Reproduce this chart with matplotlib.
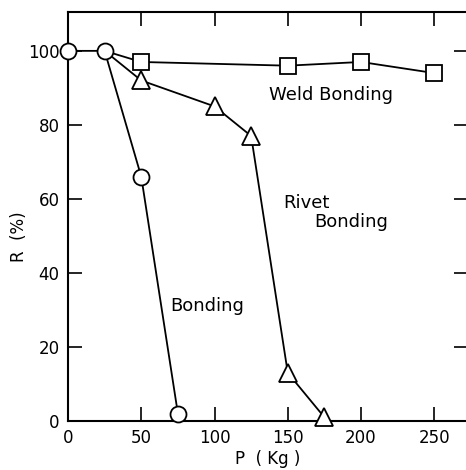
import matplotlib
matplotlib.use("Agg")
import matplotlib.pyplot as plt

# Data
bond_x = [0, 25, 50, 75]
bond_y = [100, 100, 66, 2]
rivet_x = [25, 50, 100, 125, 150, 175]
rivet_y = [100, 92, 85, 77, 13, 1]
weld_x = [25, 50, 150, 200, 250]
weld_y = [100, 97, 96, 97, 94]
xticks = [0, 50, 100, 150, 200, 250]
yticks = [0, 20, 40, 60, 80, 100]

W, H = 466, 470
fig = plt.figure(figsize=(W / 100, H / 100), dpi=100)
left, right, bottom, top = 68, 468, 421, 12
ax = fig.add_axes([left / W, 1 - bottom / H, (right - left) / W, (bottom - top) / H])

lw = 1.3
ax.plot(weld_x, weld_y, color="black", lw=lw, marker="s", ms=11.5, mfc="white",
        mec="black", mew=1.3, markevery=list(range(1, len(weld_x))), zorder=3,
        clip_on=False)
ax.plot(rivet_x, rivet_y, color="black", lw=lw, marker="^", ms=13.5, mfc="white",
        mec="black", mew=1.3, markevery=list(range(1, len(rivet_x))), zorder=3,
        clip_on=False)
ax.plot(bond_x, bond_y, color="black", lw=lw, marker="o", ms=11.5, mfc="white",
        mec="black", mew=1.3, zorder=4, clip_on=False)

ax.set_xlim(0, 273)
ax.set_ylim(0, 110.5)
ax.set_xticks(xticks)
ax.set_yticks(yticks)
ax.tick_params(direction="in", length=10, width=1.2, top=True, right=True,
               labelsize=12, pad=6)
for s in ax.spines.values():
    s.set_linewidth(1.5)

ax.set_xlabel("P  ( Kg )", fontsize=12, labelpad=2)
ax.set_ylabel("R  (%)", fontsize=12)
ax.yaxis.set_label_coords(-0.10, 0.45)

fs = 13
ax.text(137, 88, "Weld Bonding", fontsize=fs, va="center", ha="left")
ax.text(147, 59, "Rivet", fontsize=fs, va="center", ha="left")
ax.text(168, 53.8, "Bonding", fontsize=fs, va="center", ha="left")
ax.text(70, 31, "Bonding", fontsize=fs, va="center", ha="left")

fig.savefig("out.png", dpi=100)
